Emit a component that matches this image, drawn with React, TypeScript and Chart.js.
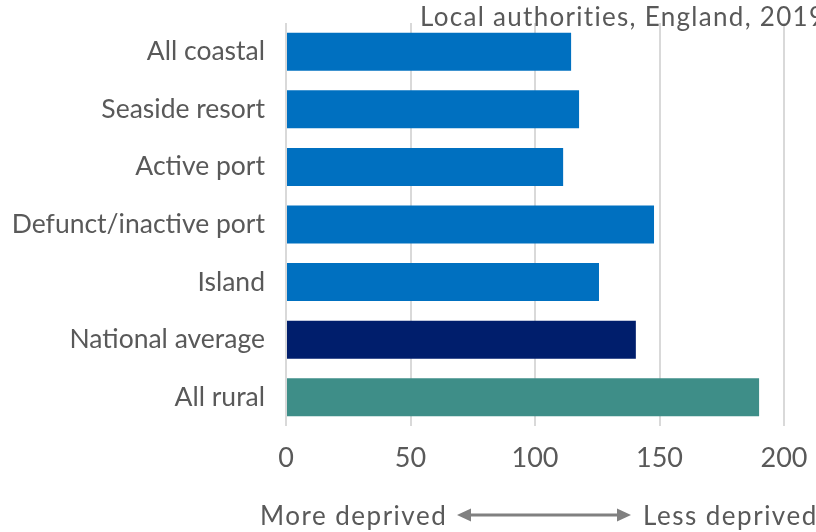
import React, { useEffect, useRef } from "react";
import { Chart, registerables } from "chart.js";

Chart.register(...registerables);

const categories = [
  "All coastal",
  "Seaside resort",
  "Active port",
  "Defunct/inactive port",
  "Island",
  "National average",
  "All rural",
];
const values = [114.5, 117.7, 111.3, 147.8, 125.7, 140.5, 190];
const barColors = ["#0070C0", "#0070C0", "#0070C0", "#0070C0", "#0070C0", "#001E6C", "#3E8E88"];
const xTicks = [0, 50, 100, 150, 200];
const titleText = "Local authorities, England, 2019";
const leftNote = "More deprived";
const rightNote = "Less deprived";

const FONT = "Lato, 'Noto Sans', sans-serif";
const TEXT = "#595959";

const annotations = {
  id: "annotations",
  afterDraw(chart: any) {
    const ctx = chart.ctx;
    ctx.save();
    ctx.fillStyle = TEXT;
    ctx.font = `26px ${FONT}`;
    ctx.textBaseline = "alphabetic";
    ctx.textAlign = "left";
    (ctx as any).letterSpacing = "1.3px";
    ctx.fillText(titleText, 420, 26);

    const y = 525;
    (ctx as any).letterSpacing = "1.5px";
    ctx.fillText(leftNote, 260, y);
    ctx.fillText(rightNote, 643, y);
    (ctx as any).letterSpacing = "0px";

    // double arrow
    const ay = 515;
    const x1 = 457;
    const x2 = 631;
    ctx.strokeStyle = "#808080";
    ctx.fillStyle = "#808080";
    ctx.lineWidth = 3;
    ctx.beginPath();
    ctx.moveTo(x1 + 10, ay);
    ctx.lineTo(x2 - 10, ay);
    ctx.stroke();
    ctx.beginPath();
    ctx.moveTo(x1, ay);
    ctx.lineTo(x1 + 14, ay - 6.5);
    ctx.lineTo(x1 + 14, ay + 6.5);
    ctx.closePath();
    ctx.fill();
    ctx.beginPath();
    ctx.moveTo(x2, ay);
    ctx.lineTo(x2 - 14, ay - 6.5);
    ctx.lineTo(x2 - 14, ay + 6.5);
    ctx.closePath();
    ctx.fill();
    ctx.restore();
  },
};

export default function App() {
  const ref = useRef<HTMLCanvasElement | null>(null);
  useEffect(() => {
    if (!ref.current) return;
    const chart = new Chart(ref.current, {
      type: "bar",
      data: {
        labels: categories,
        datasets: [
          {
            data: values,
            backgroundColor: barColors,
            borderWidth: 0,
            categoryPercentage: 1,
            barPercentage: 0.66,
          },
        ],
      },
      options: {
        indexAxis: "y",
        responsive: false,
        animation: false,
        layout: { padding: { left: 0, right: 32, top: 23, bottom: 0 } },
        plugins: { legend: { display: false }, tooltip: { enabled: false }, title: { display: false } },
        scales: {
          x: {
            min: 0,
            max: 200,
            afterBuildTicks(scale: any) {
              scale.ticks = xTicks.map((v) => ({ value: v }));
            },
            afterFit(scale: any) {
              scale.height = 106;
              scale.paddingLeft = 0;
              scale.paddingRight = 0;
            },
            grid: { color: "#D9D9D9", lineWidth: 2, drawTicks: false },
            border: { display: false },
            ticks: { color: TEXT, font: { family: FONT, size: 27 }, padding: 16 },
          },
          y: {
            afterFit(scale: any) {
              scale.width = 286;
              scale.paddingTop = 0;
              scale.paddingBottom = 0;
            },
            grid: { display: false },
            border: { display: false },
            ticks: { color: TEXT, font: { family: FONT, size: 26.5 }, padding: 13 },
          },
        },
      },
      plugins: [annotations],
    });
    return () => chart.destroy();
  }, []);
  return (
    <div style={{ position: "absolute", left: 0, top: 0, width: 816, height: 532 }}>
      <canvas ref={ref} width={816} height={532} />
    </div>
  );
}
